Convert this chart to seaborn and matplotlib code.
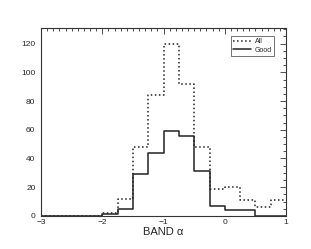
import numpy as np
import pandas as pd
import matplotlib
matplotlib.use("Agg")
import matplotlib.pyplot as plt
import seaborn as sns
from matplotlib.ticker import MultipleLocator

# Histogram of BAND alpha, bins of width 0.25 from -3 to 1
bin_edges = [-3.0, -2.75, -2.5, -2.25, -2.0, -1.75, -1.5, -1.25, -1.0,
             -0.75, -0.5, -0.25, 0.0, 0.25, 0.5, 0.75, 1.0]
all_counts = [0, 0, 0, 0, 2, 12, 48, 84, 120, 92, 48, 19, 20, 11, 6, 11]
good_counts = [0, 0, 0, 0, 1, 5, 29, 44, 59, 56, 31, 7, 4, 4, 0, 0]

centers = [(a + b) / 2 for a, b in zip(bin_edges[:-1], bin_edges[1:])]
df = pd.DataFrame({
    "alpha": centers * 2,
    "count": all_counts + good_counts,
    "sample": ["All"] * len(centers) + ["Good"] * len(centers),
})

sns.set_style("white")
plt.rcParams["font.family"] = ["Liberation Sans", "DejaVu Sans"]

fig = plt.figure(figsize=(3.11, 2.49), dpi=100)
ax = fig.add_axes([0.132, 0.133, 0.788, 0.755])

for name, ls in [("All", ":"), ("Good", "-")]:
    sub = df[df["sample"] == name]
    sns.histplot(x=sub["alpha"], weights=sub["count"], bins=bin_edges,
                 element="step", fill=False, color="#222222",
                 linestyle=ls, linewidth=1.1, ax=ax, label=name)

ax.set_xlim(-3, 1)
ax.set_ylim(0, 131)
ax.set_xlabel("BAND α", fontsize=8, labelpad=1)
ax.set_ylabel("")
ax.xaxis.set_major_locator(MultipleLocator(1))
ax.xaxis.set_minor_locator(MultipleLocator(0.1))
ax.yaxis.set_major_locator(MultipleLocator(20))
ax.yaxis.set_minor_locator(MultipleLocator(5))
ax.tick_params(which="both", direction="in", top=True, right=True,
               labelsize=6, width=0.6, color="#333333")
ax.tick_params(axis="x", pad=2)
ax.tick_params(axis="y", pad=4)
ax.tick_params(which="major", length=4)
ax.tick_params(which="minor", length=2)
for sp in ax.spines.values():
    sp.set_linewidth(0.8)
    sp.set_color("#333333")

leg = ax.legend(loc="upper right", fontsize=5, frameon=True, fancybox=False,
                edgecolor="#333333", borderpad=0.3, handlelength=2.6,
                labelspacing=0.2, handletextpad=0.6,
                bbox_to_anchor=(0.965, 0.975))
leg.get_frame().set_linewidth(0.6)

fig.savefig("out.png", dpi=100)
